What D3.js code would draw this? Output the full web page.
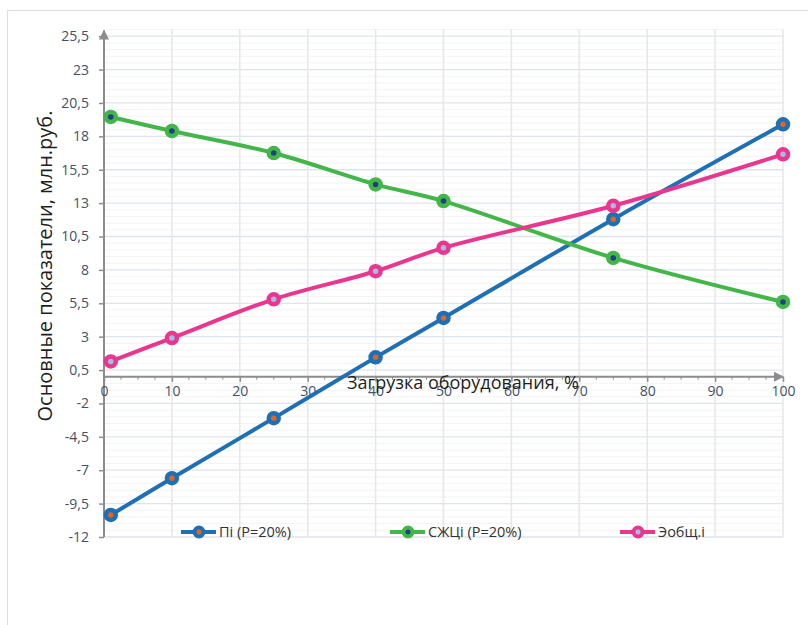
<!DOCTYPE html>
<html>
<head>
<meta charset="utf-8">
<script src="https://cdn.jsdelivr.net/npm/d3@7"></script>
<style>
  html, body { margin: 0; padding: 0; background: #fff; }
  svg { display: block; }
  text { font-family: "Open Sans", Lato, sans-serif; }
</style>
</head>
<body>
<svg id="chart" width="808" height="625"></svg>
<script>
// Load levels (%) and the three indicators, mln rub.
const loads = [1, 10, 25, 40, 50, 75, 100];
const profit = [-10.35, -7.6, -3.1, 1.45, 4.4, 11.8, 18.9];      // Пі (Р=20%)
const lifeCycle = [19.45, 18.4, 16.75, 14.4, 13.15, 8.9, 5.6];    // СЖЦі (Р=20%)
const totalEffect = [1.15, 2.9, 5.8, 7.9, 9.65, 12.8, 16.65];     // Эобщ.і

const seriesNames = ["Пі (Р=20%)", "СЖЦі (Р=20%)", "Эобщ.і"];
const yTicks = [-12, -9.5, -7, -4.5, -2, 0.5, 3, 5.5, 8, 10.5, 13, 15.5, 18, 20.5, 23, 25.5];
const xTicks = [0, 10, 20, 30, 40, 50, 60, 70, 80, 90, 100];

const series = [
  { name: seriesNames[0], values: profit, line: "#1f6fb5", dot: "#e2641f" },
  { name: seriesNames[1], values: lifeCycle, line: "#43b649", dot: "#1f3f86" },
  { name: seriesNames[2], values: totalEffect, line: "#e9368f", dot: "#a6bde3" }
];

const svg = d3.select("#chart");

// outer chart frame
svg.append("rect")
  .attr("x", 7.5).attr("y", 10.5)
  .attr("width", 830).attr("height", 640)
  .attr("fill", "#fff").attr("stroke", "#dcdce6").attr("stroke-width", 1);

const x = d3.scaleLinear().domain([0, 100]).range([104, 783]);
const y = d3.scaleLinear().domain([-12, 26]).range([537, 29.5]);

const g = svg.append("g");

// minor horizontal grid (every 0.5)
const minor = d3.range(-12, 26.001, 0.5).filter(v => !yTicks.some(t => Math.abs(t - v) < 1e-6));
g.append("g").selectAll("line").data(minor).join("line")
  .attr("x1", x(0)).attr("x2", x(100))
  .attr("y1", d => y(d)).attr("y2", d => y(d))
  .attr("stroke", "#f3f3f5").attr("stroke-width", 1);

// major horizontal grid
g.append("g").selectAll("line").data(yTicks).join("line")
  .attr("x1", x(0)).attr("x2", x(100))
  .attr("y1", d => y(d)).attr("y2", d => y(d))
  .attr("stroke", "#dfe4ec").attr("stroke-width", 1.3);

// vertical grid
g.append("g").selectAll("line").data(xTicks.slice(1)).join("line")
  .attr("x1", d => x(d)).attr("x2", d => x(d))
  .attr("y1", y(26)).attr("y2", y(-12))
  .attr("stroke", "#e8e8e8").attr("stroke-width", 1.6);

// arrow marker for the axes
const defs = svg.append("defs");
defs.append("marker")
  .attr("id", "arrow").attr("viewBox", "0 0 10 10")
  .attr("refX", 9).attr("refY", 5)
  .attr("markerWidth", 5).attr("markerHeight", 5)
  .attr("markerUnits", "strokeWidth")
  .attr("orient", "auto")
  .append("path").attr("d", "M0,0 L10,5 L0,10 Z").attr("fill", "#8c8c8c");

const axisColor = "#8c8c8c";
const labelColor = "#44506a";

// y axis
const yAxis = d3.axisLeft(y).tickValues(yTicks).tickSize(5)
  .tickFormat(d => String(d).replace(".", ","));
const ya = g.append("g").attr("transform", `translate(${x(0)},0)`).call(yAxis);
ya.select(".domain").remove();
ya.selectAll(".tick line").attr("stroke", axisColor).attr("stroke-width", 1.5);
ya.selectAll(".tick text").attr("fill", labelColor).attr("font-size", 14).attr("x", -15);
g.append("line")
  .attr("x1", x(0)).attr("x2", x(0))
  .attr("y1", y(-12)).attr("y2", y(26) + 1)
  .attr("stroke", axisColor).attr("stroke-width", 2)
  .attr("marker-end", "url(#arrow)");

// x axis at zero
const x0 = y(0);
const xAxis = d3.axisBottom(x).tickValues(xTicks).tickSize(5).tickFormat(d3.format("d"));
const xa = g.append("g").attr("transform", `translate(0,${x0})`).call(xAxis);
xa.select(".domain").remove();
xa.selectAll(".tick line").attr("stroke", axisColor).attr("stroke-width", 1.5);
xa.selectAll(".tick text").attr("fill", labelColor).attr("font-size", 14).attr("dy", "0.8em");
const xMinor = d3.range(0, 100.001, 2.5).filter(v => v % 10 !== 0);
g.append("g").selectAll("line").data(xMinor).join("line")
  .attr("x1", d => x(d)).attr("x2", d => x(d))
  .attr("y1", x0).attr("y2", x0 + 3)
  .attr("stroke", axisColor).attr("stroke-width", 1);
g.append("line")
  .attr("x1", x(0)).attr("x2", x(100))
  .attr("y1", x0).attr("y2", x0)
  .attr("stroke", axisColor).attr("stroke-width", 2)
  .attr("marker-end", "url(#arrow)");

// series lines and markers
const line = d3.line()
  .x((d, i) => x(loads[i]))
  .y(d => y(d))
  .curve(d3.curveCatmullRom.alpha(0.5));

series.forEach(s => {
  g.append("path")
    .attr("d", line(s.values))
    .attr("fill", "none")
    .attr("stroke", s.line).attr("stroke-width", 4)
    .attr("stroke-linejoin", "round").attr("stroke-linecap", "round");
  g.append("g").selectAll("circle").data(s.values).join("circle")
    .attr("cx", (d, i) => x(loads[i]))
    .attr("cy", d => y(d))
    .attr("r", 5)
    .attr("fill", s.dot)
    .attr("stroke", s.line).attr("stroke-width", 4.5);
});

// axis titles
svg.append("text")
  .attr("x", 347).attr("y", 389)
  .attr("font-size", 18).attr("fill", "#1e1e1e")
  .text("Загрузка оборудования, %");

svg.append("text")
  .attr("transform", "translate(52,266) rotate(-90)")
  .attr("text-anchor", "middle")
  .attr("font-size", 20).attr("fill", "#1e1e1e")
  .text("Основные показатели, млн.руб.");

// legend
const legendX = [181, 390, 620];
const legend = svg.append("g");
series.forEach((s, i) => {
  const lx = legendX[i], ly = 532;
  const item = legend.append("g");
  item.append("line")
    .attr("x1", lx).attr("x2", lx + 35)
    .attr("y1", ly).attr("y2", ly)
    .attr("stroke", s.line).attr("stroke-width", 4);
  item.append("circle")
    .attr("cx", lx + 18).attr("cy", ly).attr("r", 4.5)
    .attr("fill", s.dot).attr("stroke", s.line).attr("stroke-width", 4);
  item.append("text")
    .attr("x", lx + 38).attr("y", ly + 5)
    .attr("font-size", 14.5).attr("fill", "#333")
    .text(s.name);
});
</script>
</body>
</html>
